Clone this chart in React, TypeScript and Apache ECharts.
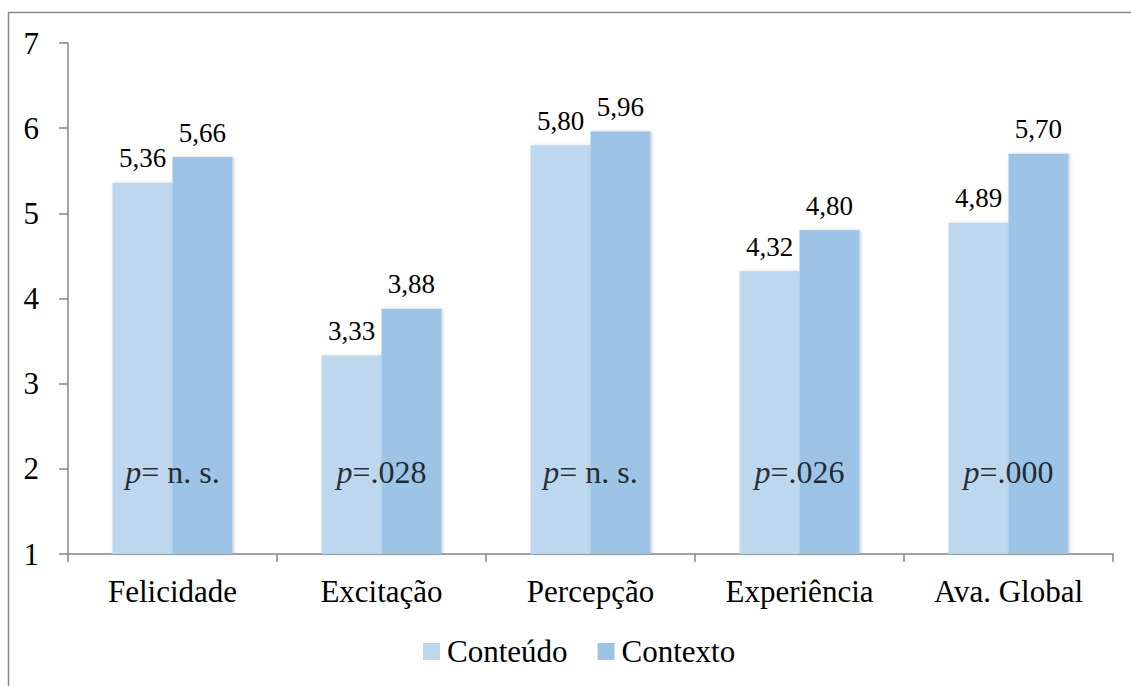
import React, { useEffect, useRef } from "react";
import * as echarts from "echarts";

// Mean scores per dimension for the two conditions
const categories = ["Felicidade", "Excitação", "Percepção", "Experiência", "Ava. Global"];
const conteudo = [5.36, 3.33, 5.8, 4.32, 4.89];
const contexto = [5.66, 3.88, 5.96, 4.8, 5.7];
// Significance of the difference between conditions, per dimension
const pValues = ["n. s.", ".028", "n. s.", ".026", ".000"];
const seriesNames = ["Conteúdo", "Contexto"];
const yMin = 1;
const yMax = 7;
const pLabelLevel = 2;

const FONT = "Liberation Serif";
const AXIS_GRAY = "#868686";

const fmt = (v: number) => v.toFixed(2).replace(".", ",");

export default function App() {
  const ref = useRef<HTMLDivElement>(null);

  useEffect(() => {
    if (!ref.current) return;
    const chart = echarts.init(ref.current, undefined, { renderer: "svg" });

    const barStyle = (color: string) => ({
      color,
      shadowColor: "rgba(0,0,0,0.18)",
      shadowBlur: 3,
      shadowOffsetX: 1.5,
      shadowOffsetY: 0,
    });

    const valueLabel = {
      show: true,
      position: "top" as const,
      distance: 11,
      color: "#000",
      fontFamily: FONT,
      fontSize: 27,
      formatter: (p: any) => fmt(p.value as number),
    };

    chart.setOption({
      animation: false,
      textStyle: { fontFamily: FONT },
      graphic: [
        {
          type: "rect",
          shape: { x: 8.5, y: 12.5, width: 1300, height: 900 },
          style: { fill: "none", stroke: AXIS_GRAY, lineWidth: 1.5 },
          silent: true,
        },
      ],
      grid: { left: 68, right: 18, top: 43, bottom: 132 },
      legend: {
        data: seriesNames,
        left: 418,
        top: 631,
        itemWidth: 17,
        itemHeight: 17,
        itemGap: 30,
        icon: "rect",
        textStyle: { fontFamily: FONT, fontSize: 31, color: "#000", padding: [0, 0, 0, 2] },
      },
      xAxis: {
        type: "category",
        data: categories,
        axisLine: { show: true, lineStyle: { color: AXIS_GRAY, width: 1.5 } },
        axisTick: { show: true, length: 8, lineStyle: { color: AXIS_GRAY, width: 1.5 } },
        axisLabel: { color: "#000", fontFamily: FONT, fontSize: 31, margin: 22 },
        splitLine: { show: false },
      },
      yAxis: {
        type: "value",
        min: yMin,
        max: yMax,
        interval: 1,
        axisLine: { show: true, lineStyle: { color: AXIS_GRAY, width: 1.5 } },
        axisTick: { show: true, length: 9, lineStyle: { color: AXIS_GRAY, width: 1.5 } },
        axisLabel: { color: "#000", fontFamily: FONT, fontSize: 31, margin: 29 },
        splitLine: { show: false },
      },
      series: [
        {
          name: seriesNames[0],
          type: "bar",
          data: conteudo,
          barGap: "0%",
          barCategoryGap: "42.6%",
          itemStyle: barStyle("#BDD7EE"),
          label: valueLabel,
        },
        {
          name: seriesNames[1],
          type: "bar",
          data: contexto,
          itemStyle: barStyle("#9DC3E6"),
          label: valueLabel,
        },
        {
          name: "p",
          type: "scatter",
          data: pValues.map(() => pLabelLevel),
          symbolSize: 1,
          itemStyle: { color: "rgba(0,0,0,0)" },
          z: 10,
          silent: true,
          label: {
            show: true,
            position: "inside",
            offset: [0, 3],
            color: "#000",
            fontFamily: FONT,
            fontSize: 32,
            formatter: (p: any) => {
              const t = pValues[p.dataIndex];
              const rest = t.startsWith(".") ? "=" + t : "= " + t;
              return "{i|p}{n|" + rest + "}";
            },
            rich: {
              i: { fontStyle: "italic", fontFamily: FONT, fontSize: 32, color: "#000" },
              n: { fontFamily: FONT, fontSize: 32, color: "#000" },
            },
          },
        },
      ],
    });

    return () => chart.dispose();
  }, []);

  return (
    <div
      ref={ref}
      style={{ position: "absolute", left: 0, top: 0, width: 1131, height: 686, background: "#fff" }}
    />
  );
}
